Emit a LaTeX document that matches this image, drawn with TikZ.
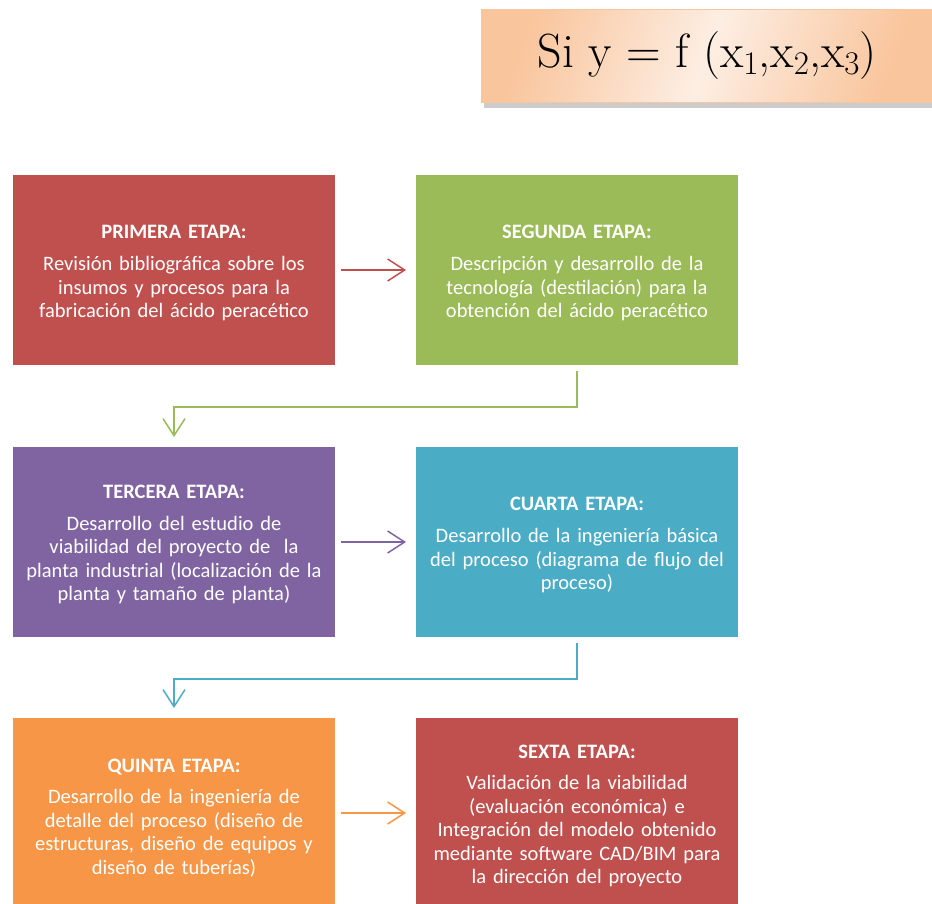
\documentclass[tikz,border=0pt]{standalone}
\usepackage{fontspec}
\usepackage{xcolor}
\newfontfamily\calfont{Carlito}
\usetikzlibrary{positioning}
\usetikzlibrary{arrows.meta}
\usetikzlibrary{shadows}

\definecolor{rojo}{HTML}{C0504D}
\definecolor{verde}{HTML}{9BBB59}
\definecolor{morado}{HTML}{8064A2}
\definecolor{celeste}{HTML}{4BACC6}
\definecolor{naranja}{HTML}{F79646}
\definecolor{durazno}{HTML}{F9C59C}
\definecolor{duraznoclaro}{HTML}{FDEEE3}

\newcommand{\subind}[1]{\raisebox{-7pt}{\fontsize{33}{33}\selectfont #1}}

\begin{document}
\begin{tikzpicture}[x=1pt,y=-1pt,>={Straight Barb[length=17pt,width=22pt]},
                    line width=1.5pt,
                    etapa/.style={rectangle,outer sep=0pt,inner sep=2pt,
                                  minimum width=322pt,minimum height=190pt,
                                  text width=316pt,align=center,text=white,
                                  font=\calfont\fontsize{20.5}{23.5}\selectfont,bajar=19pt},
                    bajar/.style={execute at begin node={\rule{0pt}{#1}}},
                    flecha/.style={->,shorten <=6pt,shorten >=10pt}]
\useasboundingbox (0,0) rectangle (932,903);
\clip (0,0) rectangle (932,903);

% formula
\node[rectangle,minimum width=452pt,minimum height=93pt,draw=durazno,line width=.8pt,
      top color=durazno,bottom color=durazno,middle color=duraznoclaro,shading angle=70,
      drop shadow={shadow xshift=3pt,shadow yshift=-5pt,fill=black!40,opacity=.5},
      font=\fontsize{48}{52}\selectfont] (f) at (707,56)
      {Si y = f (x\subind{1},x\subind{2},x\subind{3})};

% etapas
\node[etapa,fill=rojo] (1) at (174,270)
  {\textbf{PRIMERA ETAPA:}\\[9pt]
   Revisión bibliográfica sobre los\\ insumos y procesos para la\\
   fabricación del ácido peracético};
\node[etapa,fill=verde] (2) [right=81pt of 1]
  {\textbf{SEGUNDA ETAPA:}\\[9pt]
   Descripción y desarrollo de la\\ tecnología (destilación) para la\\
   obtención del ácido peracético};
\node[etapa,fill=morado] (3) [below=82pt of 1]
  {\textbf{TERCERA ETAPA:}\\[8pt]
   Desarrollo del estudio de\\ viabilidad del proyecto de~ la\\
   planta industrial (localización de la\\ planta y tamaño de planta)};
\node[etapa,fill=celeste] (4) [right=81pt of 3]
  {\textbf{CUARTA ETAPA:}\\[9pt]
   Desarrollo de la ingeniería básica\\ del proceso (diagrama de flujo del\\
   proceso)};
\node[etapa,fill=naranja,bajar=23pt] (5) [below=81pt of 3]
  {\textbf{QUINTA ETAPA:}\\[8pt]
   Desarrollo de la ingeniería de\\ detalle del proceso (diseño de\\
   estructuras, diseño de equipos y\\ diseño de tuberías)};
\node[etapa,fill=rojo] (6) [right=81pt of 5]
  {\textbf{SEXTA ETAPA:}\\[8pt]
   Validación de la viabilidad\\ (evaluación económica) e\\
   Integración del modelo obtenido\\ mediante software CAD/BIM para\\
   la dirección del proyecto};

% flechas
\draw[flecha,rojo] (1) -- (2);
\draw[flecha,verde] (2.south) -- ++(0,42) -| (3.north);
\draw[flecha,morado] (3) -- (4);
\draw[flecha,celeste] (4.south) -- ++(0,42) -| (5.north);
\draw[flecha,naranja] (5) -- (6);
\end{tikzpicture}
\end{document}
